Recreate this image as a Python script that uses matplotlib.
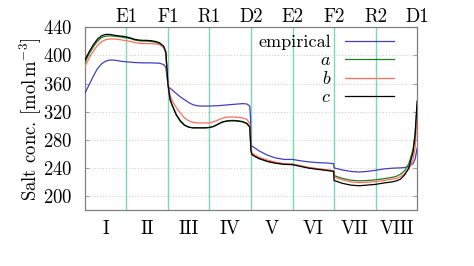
import matplotlib
matplotlib.use("Agg")
import matplotlib.pyplot as plt

plt.rcParams['font.family'] = 'serif'
plt.rcParams['font.serif'] = ['cmr10', 'DejaVu Serif']
plt.rcParams['mathtext.fontset'] = 'cm'
plt.rcParams['axes.formatter.use_mathtext'] = True

# ---- data ----
x_model = [0, 0.1, 0.2, 0.3, 0.4, 0.5, 0.6, 0.7, 0.8, 0.9, 1.0, 1.1, 1.2, 1.3, 1.4, 1.5,
           1.6, 1.7, 1.8, 1.9, 1.95, 2.0, 2.05, 2.1, 2.2, 2.3, 2.4, 2.5, 2.6, 2.7, 2.8,
           2.9, 3.0, 3.1, 3.2, 3.3, 3.4, 3.5, 3.6, 3.7, 3.8, 3.9, 3.97, 4.0, 4.02, 4.1,
           4.2, 4.4, 4.6, 4.8, 5.0, 5.2, 5.4, 5.6, 5.8, 5.99, 6.0, 6.2, 6.4, 6.6, 6.8,
           7.0, 7.2, 7.4, 7.5, 7.6, 7.7, 7.8, 7.9, 7.95, 8.0]

conc_c = [393, 405, 415, 423, 428, 430, 430, 429, 428, 427.5, 426.5, 425, 423, 422, 421.5, 421.5,
          421, 420, 418, 413, 405, 360, 338, 330, 316, 307, 301, 298, 297, 297, 297,
          297, 297.5, 299, 302, 305, 306.5, 307, 307, 306.5, 305.5, 303, 298, 265, 259, 256,
          253, 249, 246.5, 245, 244.5, 242, 239.5, 238, 236.5, 235, 222, 218, 215.5, 214.5, 215.5,
          216.5, 218.5, 220, 221.5, 224, 230, 240, 262, 285, 335]

conc_a = [390, 402, 412, 420, 425.5, 427.5, 428, 427.5, 427, 426, 425, 424, 422, 421, 420.5, 420.5,
          420, 419, 417, 412, 404, 358, 337, 329, 315, 306, 300.5, 298, 297, 297, 297,
          297, 297.5, 299, 302, 305, 306.5, 307.5, 307.5, 307, 306, 303.5, 298.5, 265, 259.5, 256.5,
          253.5, 249.5, 247, 245.5, 245, 242.5, 240, 238.5, 237, 235.5, 229, 225, 222.5, 221.5, 222,
          223, 224.5, 226.5, 228, 231, 236, 246, 266, 288, 330]

conc_b = [384, 396, 406, 414, 419.5, 422.5, 423.5, 423.5, 423, 422, 421, 420, 418.5, 417.5, 417, 417,
          417, 416.5, 415.5, 411, 403, 362, 344, 336, 326, 318, 311, 307, 305, 304, 304,
          304, 304, 305.5, 308, 310.5, 312, 312.5, 312.5, 312, 311, 309, 303, 268, 261, 258,
          255, 251, 248, 246, 245.5, 243, 240.5, 239, 237.5, 236, 227, 223, 220, 219, 219.5,
          220.5, 222, 224, 225, 227.5, 232, 238, 252, 268, 315]

x_emp = [0, 0.1, 0.2, 0.3, 0.4, 0.5, 0.6, 0.7, 0.8, 0.9, 1.0, 1.2, 1.4, 1.6, 1.8, 1.9, 1.95,
         2.0, 2.02, 2.1, 2.2, 2.3, 2.4, 2.5, 2.6, 2.7, 2.8, 3.0, 3.2, 3.4, 3.6, 3.8, 3.9,
         3.97, 3.99, 4.0, 4.1, 4.2, 4.4, 4.6, 4.8, 5.0, 5.2, 5.4, 5.6, 5.8, 5.99, 6.0, 6.2,
         6.4, 6.6, 6.8, 7.0, 7.2, 7.4, 7.6, 7.7, 7.8, 7.9, 7.95, 8.0]
conc_emp = [346, 358, 370, 381, 388, 392, 393.5, 393.5, 392.5, 391.5, 391, 390, 389.5, 389.5, 389, 387, 383,
            360, 355, 351, 346, 341, 337, 333, 330, 328.5, 328, 328, 328.5, 329.5, 330.5, 331.5, 331,
            328, 310, 272, 268, 264, 258, 254, 252, 252, 250, 248.5, 247.5, 247, 246, 240, 237,
            235, 234, 235, 236.5, 238.5, 239.5, 240, 240.5, 242, 246, 252, 268]

top_ticks = [1, 2, 3, 4, 5, 6, 7, 8]
top_labels = ['E1', 'F1', 'R1', 'D2', 'E2', 'F2', 'R2', 'D1']
bottom_ticks = [0.5, 1.5, 2.5, 3.5, 4.5, 5.5, 6.5, 7.5]
bottom_labels = ['I', 'II', 'III', 'IV', 'V', 'VI', 'VII', 'VIII']
y_ticks = [200, 240, 280, 320, 360, 400, 440]

FS = 13.5

fig = plt.figure(figsize=(4.74, 2.66), dpi=100)
ax = fig.add_axes([0.179, 0.2105, 0.701, 0.6865])

for y in y_ticks:
    ax.axhline(y, color='#c8c8c8', lw=0.7, ls=(0, (1, 2)), zorder=0)
for xv in top_ticks[:-1]:
    ax.axvline(xv, color='#7fd4bc', lw=1.0, zorder=1)

ax.plot(x_emp, conc_emp, color='#4040c0', lw=0.9, label='empirical', zorder=3)
ax.plot(x_model, conc_a, color='#1e801e', lw=0.9, label='$a$', zorder=3)
ax.plot(x_model, conc_b, color='#ff6c5c', lw=0.9, label='$b$', zorder=3)
ax.plot(x_model, conc_c, color='black', lw=0.9, label='$c$', zorder=3)

ax.set_xlim(0, 8)
ax.set_ylim(180, 440)
ax.set_yticks(y_ticks)
ax.set_xticks(bottom_ticks)
ax.set_xticklabels(bottom_labels)
ax.tick_params(axis='x', length=0, pad=7, labelsize=FS)
ax.tick_params(axis='y', direction='in', length=3, color='#a0a0a0', right=True, pad=9, labelsize=FS)

sec = ax.secondary_xaxis('top')
sec.set_xticks(top_ticks)
sec.set_xticklabels(top_labels)
sec.tick_params(length=0, pad=1, labelsize=FS)
sec.spines['top'].set_visible(False)

for s in ax.spines.values():
    s.set_color('#808080')
    s.set_linewidth(0.9)

ax.set_ylabel(r'Salt conc. [$\mathrm{mol\,m^{-3}}$]', fontsize=FS, labelpad=0)

leg = ax.legend(loc='upper right', bbox_to_anchor=(0.953, 1.0), frameon=False, markerfirst=False,
                fontsize=13, handlelength=2.75, labelspacing=0.12, handletextpad=0.75,
                borderaxespad=0.0)

fig.savefig('out.png', dpi=100)
